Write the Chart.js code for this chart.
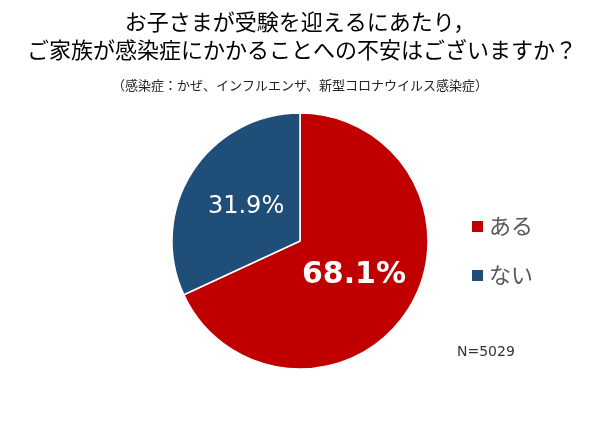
<!DOCTYPE html>
<html><head><meta charset="utf-8">
<script src="https://cdn.jsdelivr.net/npm/chart.js@4/dist/chart.umd.min.js"></script>
<style>html,body{margin:0;padding:0;background:#fff}#wrap{width:600px;height:430px}</style>
</head><body><div id="wrap"><canvas id="c" width="600" height="430"></canvas></div>
<script>
const titleLines = ["お子さまが受験を迎えるにあたり，", "ご家族が感染症にかかることへの不安はございますか？"];
const subtitleText = "（感染症：かぜ、インフルエンザ、新型コロナウイルス感染症）";
const categories = ["ある", "ない"];
const values = [68.1, 31.9];
const colors = ["#C00000", "#1F4E79"];
const sampleNote = "N=5029";

const FONT = '"Noto Sans CJK JP", "Noto Sans", sans-serif';
const NUMFONT = '"DejaVu Sans", sans-serif';

const overlay = {
  id: 'overlay',
  afterDraw(chart) {
    const ctx = chart.ctx;
    ctx.save();
    ctx.textAlign = 'center';
    ctx.textBaseline = 'middle';
    ctx.fillStyle = '#000';
    ctx.font = '22px ' + FONT;
    ctx.fillText(titleLines[0], 300, 22);
    ctx.fillText(titleLines[1], 302, 50);
    ctx.font = '13px ' + FONT;
    ctx.fillStyle = '#222';
    ctx.fillText(subtitleText, 300, 85);
    // slice labels
    const meta = chart.getDatasetMeta(0);
    meta.data.forEach((arc, i) => {
      const p = arc.tooltipPosition();
      ctx.fillStyle = '#fff';
      if (i === 0) ctx.font = 'bold 30px ' + NUMFONT; else ctx.font = '24px ' + NUMFONT;
      ctx.fillText(values[i].toFixed(1) + '%', p.x, p.y);
    });
    // legend
    ctx.textAlign = 'left';
    categories.forEach((c, i) => {
      const y = 226 + i * 49;
      ctx.fillStyle = colors[i];
      ctx.fillRect(472, y - 5, 11, 11);
      ctx.fillStyle = '#595959';
      ctx.font = '22px ' + FONT;
      ctx.fillText(c, 489, y);
    });
    ctx.font = '14px ' + NUMFONT;
    ctx.fillStyle = '#333';
    ctx.fillText(sampleNote, 457, 352);
    ctx.restore();
  }
};

new Chart(document.getElementById('c'), {
  type: 'pie',
  data: {
    labels: categories,
    datasets: [{
      data: values,
      backgroundColor: colors,
      borderColor: '#fff',
      borderWidth: 1.5
    }]
  },
  options: {
    responsive: false,
    animation: false,
    radius: 128,
    layout: { padding: { top: 113, bottom: 61, left: 172, right: 172 } },
    plugins: { legend: { display: false }, tooltip: { enabled: false }, title: { display: false } }
  },
  plugins: [overlay]
});
</script></body></html>
